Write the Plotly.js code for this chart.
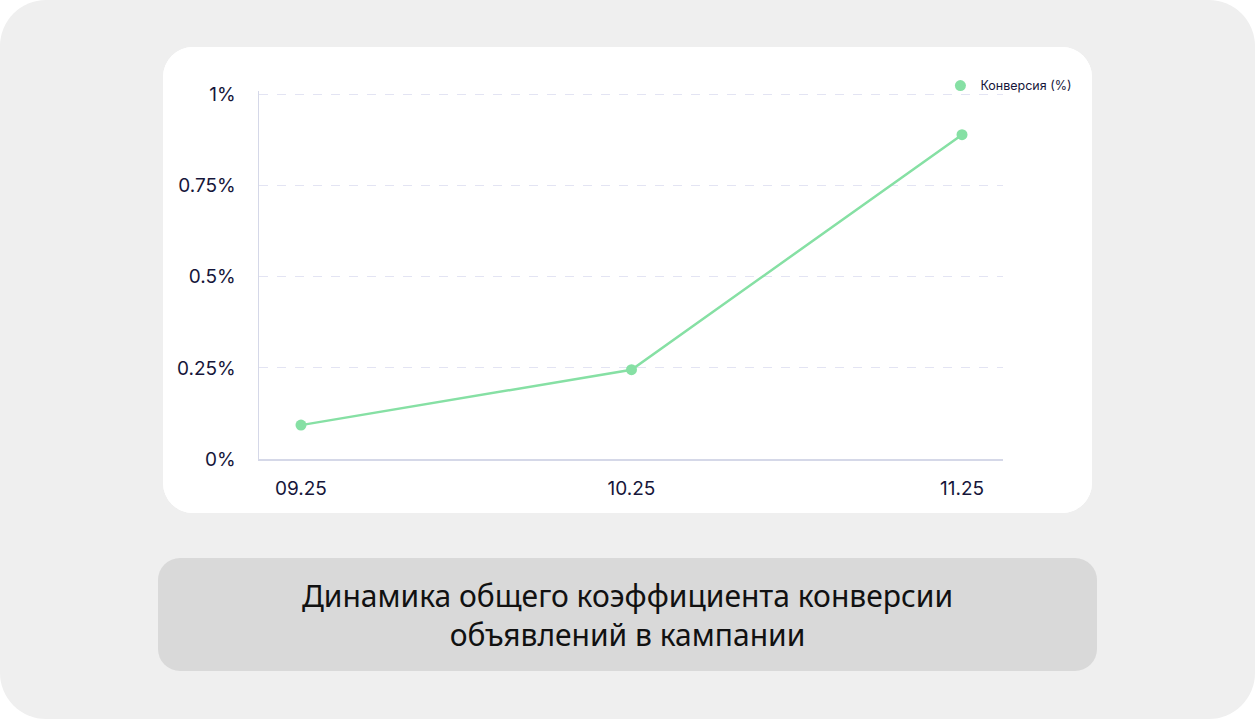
<!DOCTYPE html>
<html><head><meta charset="utf-8">
<script src="https://cdn.plot.ly/plotly-3.0.1.min.js"></script>
<style>
html,body{margin:0;padding:0;width:1255px;height:719px;background:#ffffff;overflow:hidden;}
#outer{position:absolute;left:0;top:0;width:1255px;height:719px;background:#efefef;border-radius:46px;}
#card{position:absolute;left:163px;top:47px;width:929px;height:466px;background:#fff;border-radius:30px;overflow:hidden;}
#cap{position:absolute;left:158px;top:558px;width:939px;height:113px;background:#d9d9d9;border-radius:22px;
display:flex;align-items:center;justify-content:center;text-align:center;font-family:"Noto Sans",sans-serif;
font-size:30px;line-height:39px;color:#111;}
</style></head>
<body>
<div id="outer"></div>
<div id="card"></div>
<div id="cap">Динамика общего коэффициента конверсии<br>объявлений в кампании</div>
<script>
const months = ["09.25","10.25","11.25"];
const conversion = [0.093, 0.245, 0.89];
const yTicks = [0, 0.25, 0.5, 0.75, 1];
const yTickText = ["0%","0.25%","0.5%","0.75%","1%"];
const seriesName = "Конверсия (%)";
const green = "#86e0a4";

Plotly.newPlot("card", [{
  x: months, y: conversion, type: "scatter", mode: "lines", name: seriesName,
  line: {color: green, width: 2.5}, showlegend: false, legendgroup: "c"
},{
  x: months, y: conversion, type: "scatter", mode: "markers", name: seriesName,
  marker: {color: green, size: 11}, showlegend: true, legendgroup: "c"
}], {
  width: 929, height: 466,
  margin: {l: 96, r: 89, t: 44, b: 54},
  paper_bgcolor: "#ffffff", plot_bgcolor: "#ffffff",
  font: {family: "Inter, 'Noto Sans', sans-serif", color: "#16163a"},
  xaxis: {type: "category", range: [-0.127, 2.124], showgrid: false, zeroline: false,
    showline: true, linecolor: "#d5d8e8", linewidth: 1.5, ticks: "outside", ticklen: 12, tickcolor: "rgba(0,0,0,0)",
    tickfont: {size: 19, color: "#16163a"}, fixedrange: true},
  yaxis: {range: [0, 1.01], tickvals: yTicks, ticktext: yTickText, showgrid: true, gridcolor: "#e3e4f3",
    griddash: "dash", gridwidth: 1, zeroline: false, showline: true, linecolor: "#d5d8e8", linewidth: 1.5,
    ticks: "outside", ticklen: 18, tickcolor: "rgba(0,0,0,0)", tickfont: {size: 19, color: "#16163a"}},
  legend: {x: 1.1, xanchor: "right", y: 1.0136, yanchor: "middle", bgcolor: "rgba(0,0,0,0)",
    font: {size: 12.5, color: "#16163a"}, itemwidth: 30},
  showlegend: true
}, {displayModeBar: false, staticPlot: true});
</script>
</body></html>
